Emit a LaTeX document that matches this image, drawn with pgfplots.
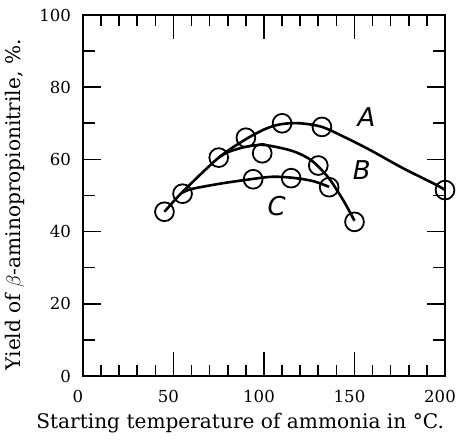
\documentclass[border=0pt]{standalone}
\usepackage{fontspec}
\setmainfont{DejaVu Serif}
\newfontfamily\letterfont{DejaVu Sans}
\usepackage{pgfplots}
\pgfplotsset{compat=1.18}

\pgfplotsset{
  frame/.style={
    at={(0,0)}, anchor=south west,
    scale only axis, width=181bp, height=180.5bp,
    xmin=0, xmax=200, ymin=0, ymax=100,
    axis line style={line width=1.4bp},
    tick style={black, line width=0.8bp},
    tick align=inside,
    /pgf/number format/assume math mode=true,
    tick label style={font=\fontsize{8.3}{10}\selectfont},
    label style={font=\fontsize{10.1}{12}\selectfont},
    clip=false,
  },
}

\begin{document}
\begin{tikzpicture}
\useasboundingbox (-41.5bp,-32bp) rectangle (187bp,188bp);

% x ticks, frame and data
\begin{axis}[frame,
  xtick={0,50,...,200}, minor x tick num=4,
  ytick=\empty,
  major tick length=12bp, minor tick length=5.5bp,
  xticklabel style={anchor=center, yshift=-10bp, xshift=-2.5bp},
  xlabel={Starting temperature of ammonia in °C.},
  xlabel style={at={(axis description cs:0.434,-0.13)}, anchor=center},
]
% curve A
\addplot[black, line width=1.3bp, smooth] coordinates {
  (45,45.5) (55,51) (75,60.5) (90,65.6) (101.5,68.6) (110,69.8) (120,70)
  (132,69) (144,66.3) (158.6,62.6) (177,57.5) (195,53) (200,51.5)
};
% curve B
\addplot[black, line width=1.3bp, smooth] coordinates {
  (75,60.5) (80,62) (90,63.5) (100,64) (114,62.6) (122,61) (127,59.4)
  (132,57) (137,54) (144,48.5) (150,43)
};
% curve C
\addplot[black, line width=1.3bp, smooth] coordinates {
  (55,50.8) (60,51.8) (76,53.3) (94,54.6) (105,55.2) (116,54.9) (127,54) (136,52.4)
};
% measured points
\addplot[only marks, mark=o, mark size=4.7bp, mark options={black, line width=0.9bp}] coordinates {
  (45,45.5) (55,50.5) (75,60.5) (90,66) (110,70) (132,69) (200,51.5)
  (99,61.7) (130,58.3) (150,42.7)
  (94,54.5) (115,54.8) (136,52.3)
};
\node[font=\letterfont\itshape\fontsize{13}{13}\selectfont] at (axis cs:156.6,71.8) {A};
\node[font=\letterfont\itshape\fontsize{13}{13}\selectfont] at (axis cs:154,57) {B};
\node[font=\letterfont\itshape\fontsize{13}{13}\selectfont] at (axis cs:107,47) {C};
\end{axis}

% y ticks
\begin{axis}[frame,
  xtick=\empty,
  ytick={0,20,...,100}, minor y tick num=1,
  major tick length=9bp, minor tick length=6bp,
  yticklabel style={xshift=-2.5bp},
  ylabel={Yield of $\beta$-aminopropionitrile, \%.},
  ylabel style={at={(axis description cs:-0.188,0.474)}, anchor=center},
]
\end{axis}
\end{tikzpicture}
\end{document}
